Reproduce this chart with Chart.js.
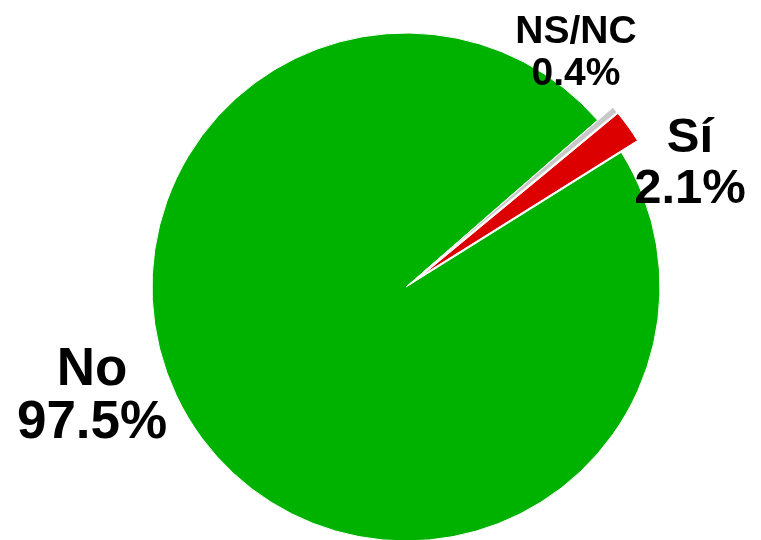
<!DOCTYPE html>
<html>
<head>
<meta charset="utf-8">
<script src="https://cdn.jsdelivr.net/npm/chart.js@4/dist/chart.umd.min.js"></script>
<style>
  html, body { margin: 0; background: #fff; }
  #wrap { width: 761px; height: 540px; position: relative; }
</style>
</head>
<body>
<div id="wrap"><canvas id="pie"></canvas></div>
<script>
// datos
const categories = ["Sí", "No", "NS/NC"];
const percentages = [2.1, 97.5, 0.4];
const valueLabels = ["2.1%", "97.5%", "0.4%"];

const sliceColors = ["#dd0000", "#00b200", "#c8c8c8"];
// desplazamiento hacia fuera de cada porción (px)
const explodeBy = [20, 0, 20];

// posición de cada etiqueta respecto al centro, en radios (primera línea base)
const labelPlacement = [
    { fx: 1.118, fy: -0.531, size: 49, gap: 51 },   // Sí
    { fx: -1.236, fy: 0.386, size: 53, gap: 53 },   // No
    { fx: 0.669, fy: -0.961, size: 39, gap: 42 },   // NS/NC
];

// el offset nativo de v4 solo traslada offset/4 y agranda el radio,
// así que se traslada la porción entera a mano
const explode = {
    id: "explode",
    afterDatasetsUpdate(chart) {
        const baseDraw = Chart.ArcElement.prototype.draw;
        chart.getDatasetMeta(0).data.forEach(function (arc, i) {
            const d = explodeBy[i];
            if (!d) return;
            arc.draw = function (ctx) {
                const mid = (this.startAngle + this.endAngle) / 2;
                ctx.save();
                ctx.translate(Math.cos(mid) * d, Math.sin(mid) * d);
                baseDraw.call(this, ctx);
                ctx.restore();
            };
        });
    }
};

const pieLabels = {
    id: "pieLabels",
    afterDatasetsDraw(chart) {
        const ctx = chart.ctx;
        const arcs = chart.getDatasetMeta(0).data;
        ctx.save();
        ctx.fillStyle = "#000";
        ctx.textAlign = "center";
        ctx.textBaseline = "alphabetic";
        arcs.forEach(function (arc, i) {
            const p = labelPlacement[i];
            const r = arc.outerRadius;
            const x = arc.x + p.fx * r;
            const y = arc.y + p.fy * r;
            ctx.font = "bold " + p.size + "px 'Liberation Sans', Arial, sans-serif";
            ctx.fillText(categories[i], x, y);
            ctx.fillText(valueLabels[i], x, y + p.gap);
        });
        ctx.restore();
    }
};

new Chart(document.getElementById("pie").getContext("2d"), {
    type: "pie",
    data: {
        labels: categories,
        datasets: [{
            data: percentages,
            backgroundColor: sliceColors,
            borderColor: "#ffffff",
            borderWidth: 1,
            hoverOffset: 0,
        }],
    },
    options: {
        responsive: true,
        maintainAspectRatio: false,
        animation: false,
        rotation: 50.4,
        radius: 254,
        layout: { padding: { left: 51, top: 34, right: 0, bottom: 0 } },
        plugins: {
            legend: { display: false },
            tooltip: { enabled: false },
        },
    },
    plugins: [explode, pieLabels],
});
</script>
</body>
</html>
